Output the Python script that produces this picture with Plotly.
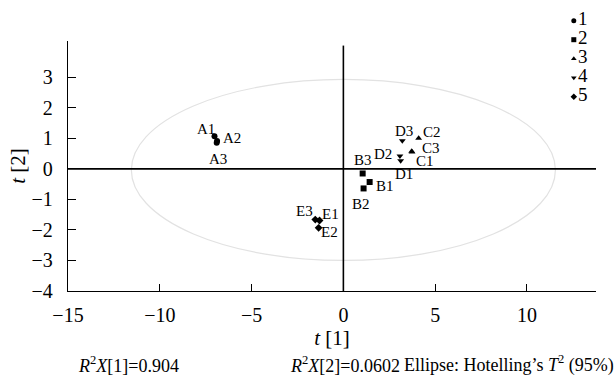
import plotly.graph_objects as go

groups = ["1", "2", "3", "4", "5"]
symbols = ["circle", "square", "triangle-up", "triangle-down", "diamond"]
labels = [["A1", "A2", "A3"], ["B1", "B2", "B3"], ["C1", "C2", "C3"],
          ["D1", "D2", "D3"], ["E1", "E2", "E3"]]
t1 = [[-7.02, -6.88, -6.9], [1.43, 1.1, 1.05], [3.74, 4.1, 3.72],
      [3.12, 3.08, 3.21], [-1.3, -1.35, -1.53]]
t2 = [[1.07, 0.91, 0.86], [-0.43, -0.64, -0.15], [0.55, 1.0, 0.58],
      [0.27, 0.42, 0.92], [-1.69, -1.93, -1.66]]

# label offsets from their point, in pixels (dx right, dy down)
label_offset = {
    "A1": (-9, -7), "A2": (15, -3), "A3": (1, 16),
    "B1": (15, 4), "B2": (-3, 16), "B3": (0, -13),
    "C1": (13, 9), "C2": (13, -6), "C3": (19, -3),
    "D1": (3, 13), "D2": (-17, -2), "D3": (2, -10),
    "E1": (11, -6), "E2": (11, 4), "E3": (-11, -9),
}

ellipse_a = 11.55
ellipse_b_top = 2.93
ellipse_b_bot = -3.0

x_ticks = [-15, -10, -5, 0, 5, 10]
y_ticks = [-4, -3, -2, -1, 0, 1, 2, 3]

FONT = "Liberation Serif"

# layout geometry (pixels)
W, H = 616, 385
ML, MR, MT, MB = 68, 10, 2, 94
PW, PH = W - ML - MR, H - MT - MB
plot_right, plot_top = 596, 41
leg_left, leg_bottom = 560, 116


def px_x(p):
    return (p - ML) / PW


def px_y(p):
    return (H - MB - p) / PH


fig = go.Figure()
for g, sym, lab, xs, ys in zip(groups, symbols, labels, t1, t2):
    fig.add_trace(go.Scatter(
        x=xs, y=ys, mode="markers", name=g, text=lab,
        marker=dict(symbol=sym, size=6, color="black"),
        showlegend=False,
    ))
    for name, xv, yv in zip(lab, xs, ys):
        dx, dy = label_offset[name]
        fig.add_annotation(x=xv, y=yv, xref="x", yref="y", text=name,
                           showarrow=False, xshift=dx, yshift=-dy,
                           xanchor="center", yanchor="middle", borderpad=0,
                           font=dict(family=FONT, size=15, color="black"))

# legend key drawn on a small auxiliary axis
fig.add_trace(go.Scatter(
    x=[0.3] * len(groups), y=list(range(len(groups))), mode="markers+text",
    text=groups, textposition="middle right",
    marker=dict(symbol=symbols, size=5, color="black"),
    textfont=dict(family=FONT, size=19, color="black"),
    xaxis="x2", yaxis="y2", showlegend=False, hoverinfo="skip",
))

fig.add_shape(type="circle", xref="x", yref="y", x0=-ellipse_a, x1=ellipse_a,
              y0=ellipse_b_bot, y1=ellipse_b_top,
              line=dict(color="#e2e2e2", width=1.2), layer="below")
fig.add_shape(type="line", xref="x", yref="y", x0=0, x1=0, y0=-4, y1=4.04,
              line=dict(color="black", width=1.6), layer="below")
fig.add_shape(type="line", xref="x", yref="y", x0=-15, x1=13.76, y0=0, y1=0,
              line=dict(color="black", width=1.6), layer="below")

bfont = dict(family=FONT, size=18, color="black")
fig.add_annotation(text="<i>R</i><sup>2</sup><i>X</i>[1]=0.904",
                   xref="paper", yref="paper", x=px_x(76), y=px_y(364),
                   xanchor="left", yanchor="middle", showarrow=False, font=bfont)
fig.add_annotation(text="<i>R</i><sup>2</sup><i>X</i>[2]=0.0602",
                   xref="paper", yref="paper", x=px_x(288), y=px_y(364),
                   xanchor="left", yanchor="middle", showarrow=False, font=bfont)
fig.add_annotation(text="Ellipse: Hotelling’s <i>T</i><sup>2</sup> (95%)",
                   xref="paper", yref="paper", x=px_x(616), y=px_y(364),
                   xanchor="right", yanchor="middle", showarrow=False, font=bfont)

fig.update_layout(
    width=W, height=H,
    margin=dict(l=ML, r=MR, t=MT, b=MB),
    paper_bgcolor="white", plot_bgcolor="rgba(0,0,0,0)",
    font=dict(family=FONT, size=20, color="black"),
    showlegend=False,
    xaxis=dict(domain=[0, px_x(plot_right)],
               range=[-15, 13.76], tickvals=x_ticks, showgrid=False, zeroline=False,
               showline=True, linecolor="black", linewidth=1.3,
               ticks="inside", ticklen=7, tickcolor="black", ticklabelstandoff=6,
               tickfont=dict(size=20),
               title=dict(text="<i>t</i> [1]", standoff=4, font=dict(size=21))),
    yaxis=dict(domain=[0, px_y(plot_top)],
               range=[-4, 4.19], tickvals=y_ticks, showgrid=False, zeroline=False,
               showline=True, linecolor="black", linewidth=1.3,
               ticks="inside", ticklen=8, tickcolor="black", ticklabelstandoff=10,
               tickfont=dict(size=20),
               title=dict(text="<i>t</i> [2]", standoff=0, font=dict(size=21))),
    xaxis2=dict(domain=[px_x(leg_left), 1], range=[0, 1], anchor="y2",
                visible=False, fixedrange=True),
    yaxis2=dict(domain=[px_y(leg_bottom), 1], range=[5.016, -0.984],
                anchor="x2", visible=False, fixedrange=True),
)

fig.write_html("out.html")
